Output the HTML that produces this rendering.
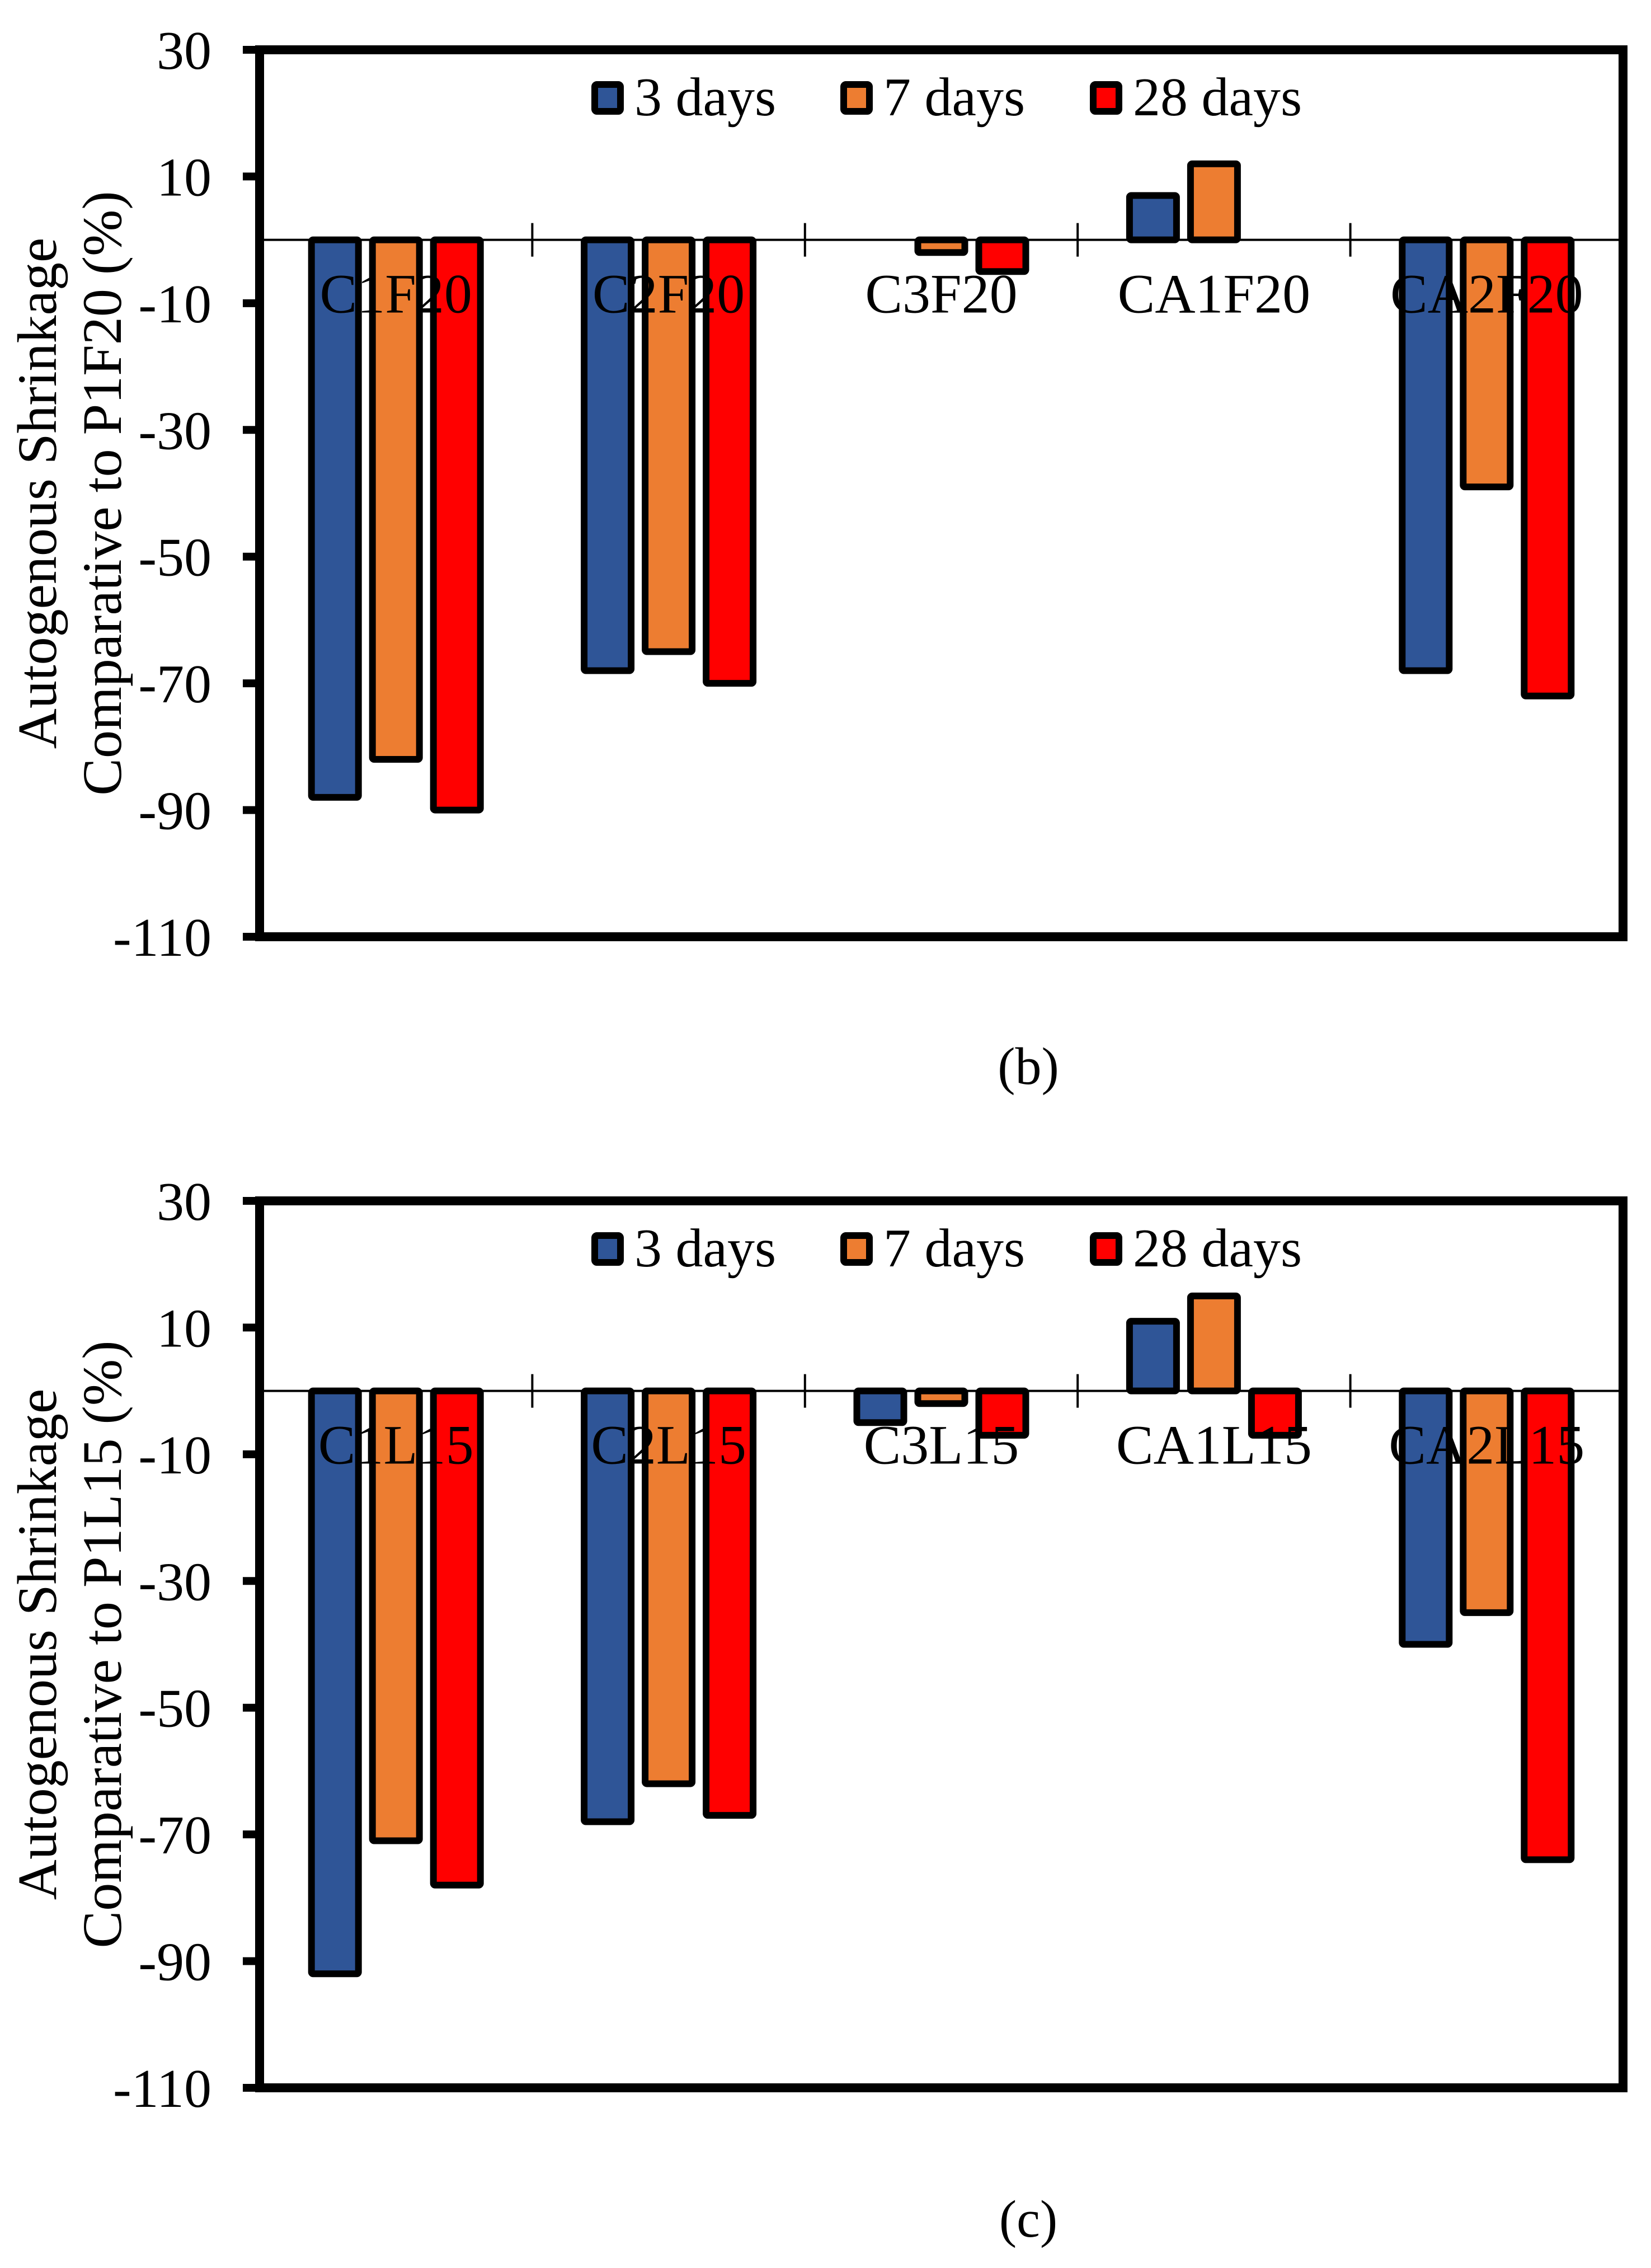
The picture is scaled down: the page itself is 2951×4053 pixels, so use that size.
<!DOCTYPE html>
<html><head><meta charset="utf-8">
<style>
html,body{margin:0;padding:0;background:#fff;}
svg{display:block;}
text{font-family:"Liberation Serif",serif;fill:#000;}
</style></head>
<body>
<svg id="fig" width="2951" height="4053" viewBox="0 0 2951 4053" xmlns="http://www.w3.org/2000/svg">
<rect x="0" y="0" width="2951" height="4053" fill="#fff"/>
</svg>
<script>
const seriesNames = ["3 days", "7 days", "28 days"];
const categoriesB = ["C1F20", "C2F20", "C3F20", "CA1F20", "CA2F20"];
const day3B = [-88, -68, 0, 7, -68];
const day7B = [-82, -65, -2, 12, -39];
const day28B = [-90, -70, -5, 0, -72];
const categoriesC = ["C1L15", "C2L15", "C3L15", "CA1L15", "CA2L15"];
const day3C = [-92, -68, -5, 11, -40];
const day7C = [-71, -62, -2, 15, -35];
const day28C = [-78, -67, -7, -7, -74];
const yTicks = [30, 10, -10, -30, -50, -70, -90, -110];

const NS = "http://www.w3.org/2000/svg";
const svg = document.getElementById('fig');
const colors = ["#2F5597", "#ED7D31", "#FF0000"];
function mk(tag, attrs, parent) {
  const e = document.createElementNS(NS, tag);
  for (const k in attrs) e.setAttribute(k, attrs[k]);
  (parent || svg).appendChild(e);
  return e;
}

function drawChart(prefix, top, cats, series, yTitle2, caption, capY) {
  const g = mk('g', {});
  
  
  const L = 464, R = 2901, B = top + 1585;
  const yMax = 30, yMin = -110;
  const y = v => top + (yMax - v) / (yMax - yMin) * (B - top);
  const band = (R - L) / cats.length;
  const xc = i => L + band * (i + 0.5);

  yTicks.forEach(t => {
    const tk = mk('line', {x1: L - 30, x2: L, y1: y(t), y2: y(t), stroke: '#000', 'stroke-width': 14}, g);
    
    
    const tx = mk('text', {x: 378, y: y(t) + 34, 'font-size': 98, 'text-anchor': 'end'}, g);
    
    
    tx.textContent = t;
  });

  const zl = mk('line', {x1: L, x2: R, y1: y(0), y2: y(0), stroke: '#000', 'stroke-width': 4}, g);
  
  
  for (let i = 1; i < cats.length; i++) {
    const xt = L + band * i;
    const ct = mk('line', {x1: xt, x2: xt, y1: y(0) - 30, y2: y(0) + 30, stroke: '#000', 'stroke-width': 4}, g);
    
    
  }

  const bw = 84, off = 109;
  series.forEach((vals, s) => {
    vals.forEach((v, i) => {
      if (v === 0) return;
      const cx = xc(i) + (s - 1) * off;
      const y1 = Math.min(y(0), y(v)), h = Math.abs(y(v) - y(0));
      const r = mk('rect', {x: cx - bw / 2, y: y1, width: bw, height: h, fill: colors[s], stroke: '#000', 'stroke-width': 12, rx: 3}, g);
      
      
    });
  });

  cats.forEach((c, i) => {
    const t = mk('text', {x: xc(i), y: y(0) + 130, 'font-size': 100, 'text-anchor': 'middle'}, g);
    
    
    t.textContent = c;
  });

  const fr = mk('rect', {x: L, y: top, width: R - L, height: B - top, fill: 'none', stroke: '#000', 'stroke-width': 16}, g);
  
  

  const lx = [1057, 1502, 1948];
  seriesNames.forEach((n, s) => {
    const sq = mk('rect', {x: lx[s] + 6, y: top + 62, width: 46, height: 48, fill: colors[s], stroke: '#000', 'stroke-width': 12, rx: 4}, g);
    
    
    const t = mk('text', {x: lx[s] + 77, y: top + 117, 'font-size': 98}, g);
    
    
    t.textContent = n;
  });

  const cy = (top + B) / 2;
  const t1 = mk('text', {x: 0, y: 0, 'font-size': 100, 'text-anchor': 'middle', transform: `translate(100 ${cy}) rotate(-90)`}, g);
  
  
  t1.textContent = 'Autogenous Shrinkage';
  const t2 = mk('text', {x: 0, y: 0, 'font-size': 100, 'text-anchor': 'middle', transform: `translate(216 ${cy}) rotate(-90)`}, g);
  
  
  t2.textContent = yTitle2;

  const cp = mk('text', {x: 1838, y: capY, 'font-size': 94, 'text-anchor': 'middle'}, g);
  
  
  cp.textContent = caption;
}

drawChart('panel-b', 89, categoriesB, [day3B, day7B, day28B], 'Comparative to P1F20 (%)', '(b)', 1937);
drawChart('panel-c', 2146, categoriesC, [day3C, day7C, day28C], 'Comparative to P1L15 (%)', '(c)', 3997);
</script>
</body></html>
